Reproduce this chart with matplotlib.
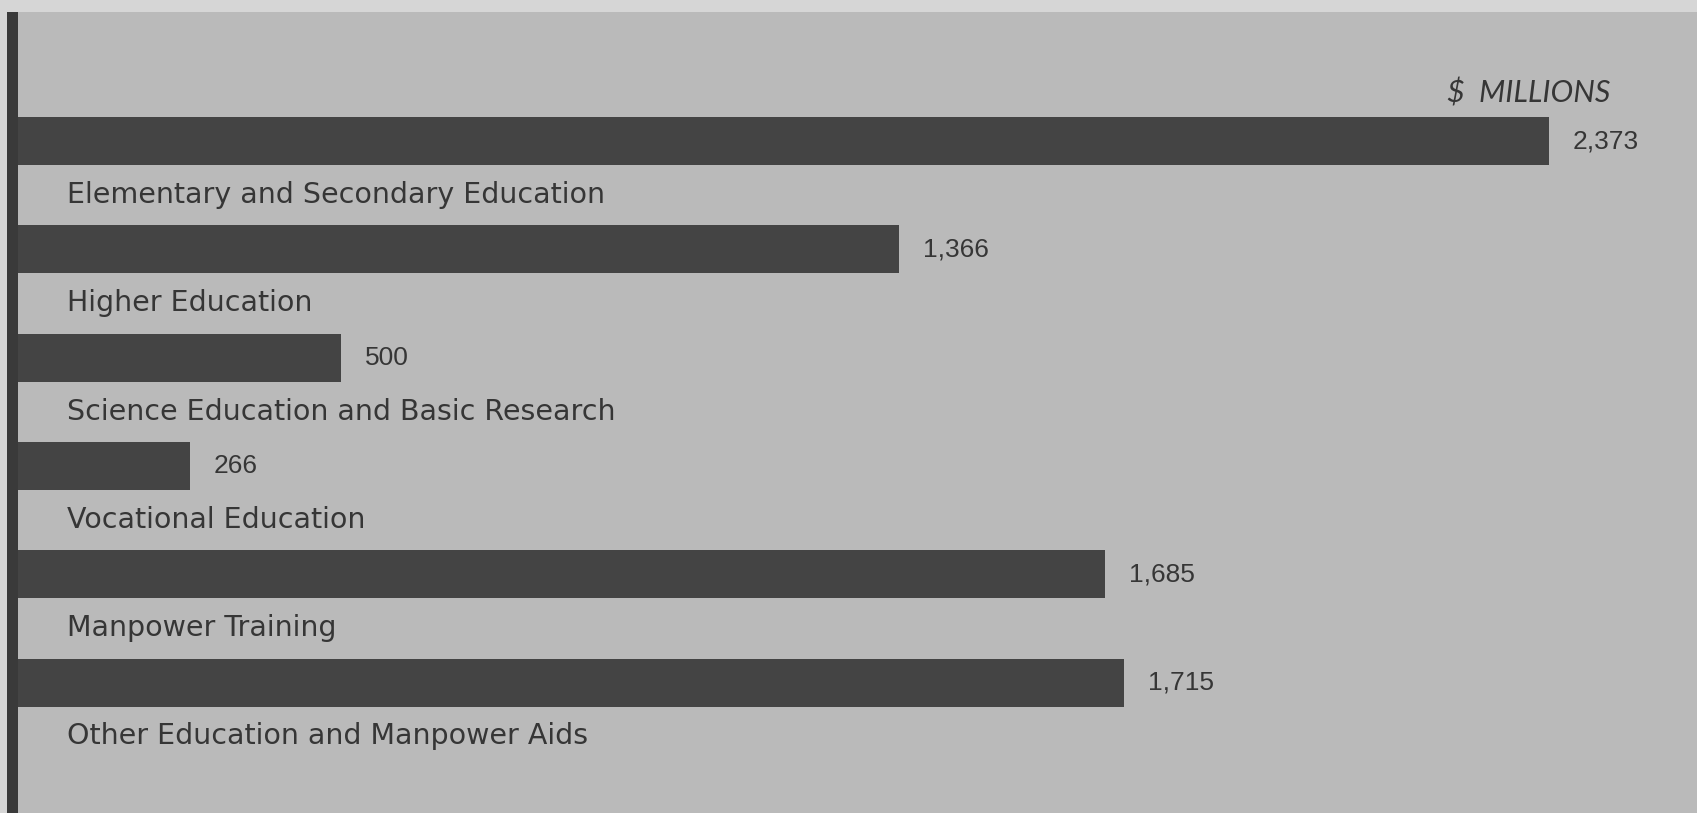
import matplotlib
matplotlib.use("Agg")
import matplotlib.pyplot as plt
from matplotlib.patches import Rectangle

# outlays by program, $ millions
programs = [
    "Elementary and Secondary Education",
    "Higher Education",
    "Science Education and Basic Research",
    "Vocational Education",
    "Manpower Training",
    "Other Education and Manpower Aids",
]
outlays = [2373, 1366, 500, 266, 1685, 1715]
value_labels = ["2,373", "1,366", "500", "266", "1,685", "1,715"]

W, H = 1697, 813
bg = "#bababa"
bar_color = "#444444"
ink = "#363636"

fig = plt.figure(figsize=(W / 100, H / 100), dpi=100)
fig.patch.set_facecolor("#d6d6d6")

# axes in pixel terms: starts right of the heavy baseline, below the light top strip
left_px, top_px = 18, 12
ax = fig.add_axes([left_px / W, 0, 1 - left_px / W, 1 - top_px / H])
ax.set_facecolor(bg)

step = 108.3
first_center = 141
ax.set_ylim((H - first_center) / step, -(first_center - top_px) / step)
ax.set_xlim(0, (W - left_px) / 0.645)

ypos = list(range(len(programs)))
ax.barh(ypos, outlays, height=48 / step, color=bar_color, linewidth=0)

for y, v, lab, name in zip(ypos, outlays, value_labels, programs):
    ax.annotate(lab, (v, y), xytext=(24, 0), textcoords="offset pixels",
                va="center", ha="left", fontsize=19, color=ink,
                family="Liberation Sans")
    ax.annotate(name, (0, y), xytext=(49, -54), textcoords="offset pixels",
                va="center", ha="left", fontsize=20.5, color=ink,
                family="DejaVu Sans")

fig.text(1610 / W, 1 - 93 / H, "$  MILLIONS", ha="right", va="center",
         fontsize=22, style="italic", color=ink, family="Lato")

# heavy vertical baseline
fig.add_artist(Rectangle((7 / W, 0), 11 / W, 1 - top_px / H,
                         transform=fig.transFigure, color="#3a3a3a", lw=0))

for s in ax.spines.values():
    s.set_visible(False)
ax.set_xticks([])
ax.set_yticks([])

fig.savefig("out.png", dpi=100, facecolor=fig.get_facecolor())
